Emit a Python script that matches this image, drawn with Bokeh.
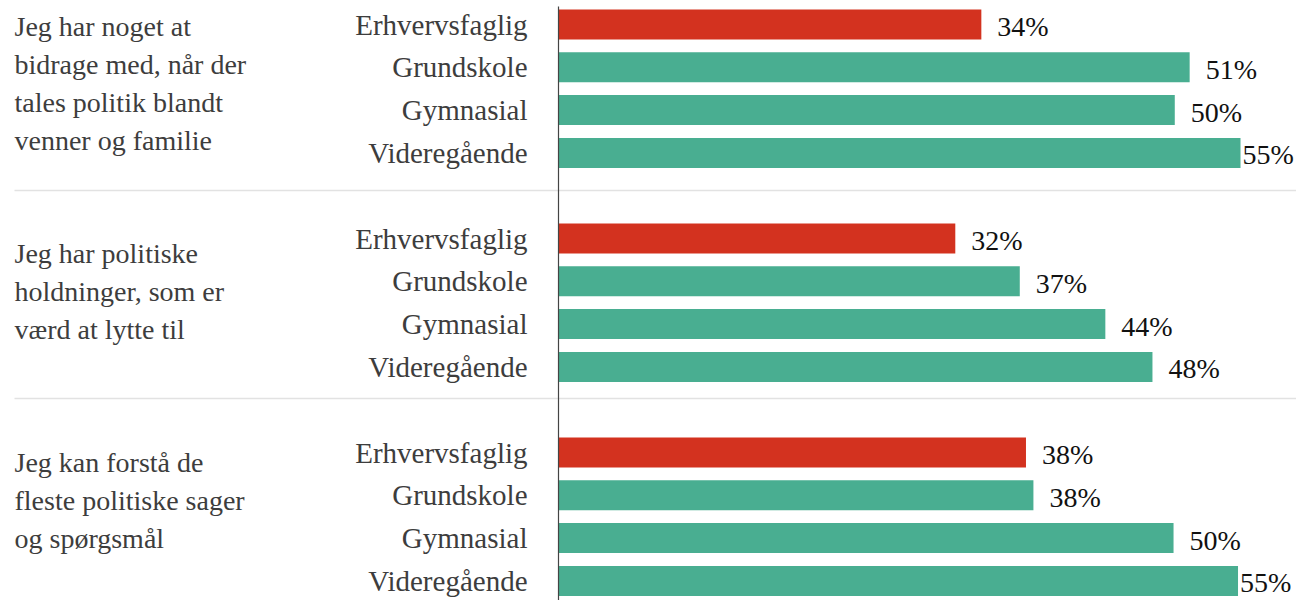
from bokeh.plotting import figure
from bokeh.models import ColumnDataSource, Range1d
from bokeh.core.properties import value
from bokeh.embed import file_html
from bokeh.resources import INLINE

questions = [
    "Jeg har noget at\nbidrage med, når der\ntales politik blandt\nvenner og familie",
    "Jeg har politiske\nholdninger, som er\nværd at lytte til",
    "Jeg kan forstå de\nfleste politiske sager\nog spørgsmål",
]
educations = ["Erhvervsfaglig", "Grundskole", "Gymnasial", "Videregående"]
values_q1 = [34.1, 50.9, 49.7, 55.0]
values_q2 = [32.0, 37.2, 44.1, 47.9]
values_q3 = [37.7, 38.3, 49.6, 54.8]
all_values = [values_q1, values_q2, values_q3]

RED = "#d3321f"
GREEN = "#49ae91"
FONT = "Liberation Serif"

W, H = 1296, 600
PX_PER = 12.4           # px per percentage point
AXIS_PX = 558           # axis position inside frame
ROW_PX = 42.8
ROW0_PX = 24
x_start = -AXIS_PX / PX_PER
x_end = (W - AXIS_PX) / PX_PER
y_top = (0 - ROW0_PX) / ROW_PX
y_bottom = (H - ROW0_PX) / ROW_PX

ys, xs, cols, labs, offs, cats = [], [], [], [], [], []
for g, vals in enumerate(all_values):
    for r, v in enumerate(vals):
        ys.append(g * 5 + r)
        xs.append(v)
        cols.append(RED if r == 0 else GREEN)
        labs.append(f"{round(v):d}%")
        offs.append(16 if v < 53 else 2)
        cats.append(educations[r])

src = ColumnDataSource(dict(y=ys, x=xs, color=cols, lab=labs, off=offs, cat=cats))

p = figure(width=W, height=H, output_backend="svg", toolbar_location=None,
           x_range=Range1d(x_start, x_end), y_range=Range1d(y_bottom, y_top),
           min_border=0, outline_line_color=None)
p.axis.visible = False
p.grid.visible = False
p.background_fill_color = "white"

# separators
sep_y = [3.88, 8.74]
for sy in sep_y:
    p.line([x_start + 14 / PX_PER, x_end], [sy, sy], line_color="#e2e2e2", line_width=1.5)

p.hbar(y="y", left=0, right="x", height=30 / ROW_PX, fill_color="color",
       line_color=None, source=src)

p.line([0, 0], [(6 - ROW0_PX) / ROW_PX, y_bottom], line_color="#444444", line_width=1.2)

p.text(x=0, y="y", text="cat", source=src, x_offset=-31, text_align="right",
       text_baseline="middle", text_font=value(FONT), text_font_size="29px",
       text_color="#3d3d3d")

p.text(x="x", y="y", text="lab", source=src, x_offset="off", text_align="left",
       text_baseline="middle", text_font=value(FONT), text_font_size="28px",
       text_color="#111111", y_offset=2)

qsrc = ColumnDataSource(dict(
    x=[x_start] * 3,
    y=[g * 5 + 1.5 for g in range(3)],
    t=questions,
    yo=[-5, -11, -16],
))
p.text(x="x", y="y", text="t", source=qsrc, x_offset=14, y_offset="yo",
       text_align="left", text_baseline="middle", text_font=value(FONT),
       text_font_size="28px", text_color="#3d3d3d", text_line_height=1.23)

open("out.html", "w").write(file_html(p, INLINE))
